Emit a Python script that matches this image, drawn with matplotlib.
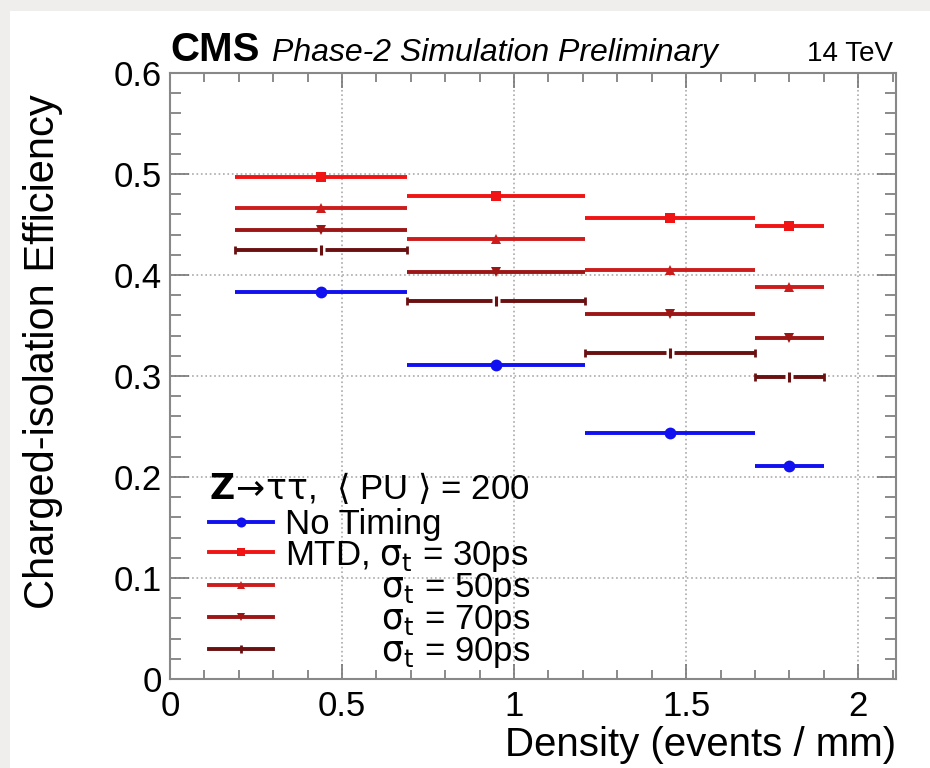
import numpy as np
import matplotlib
matplotlib.use('Agg')
import matplotlib.pyplot as plt
from matplotlib.lines import Line2D
from matplotlib.patches import Rectangle

plt.rcParams['font.family'] = ['Liberation Sans', 'DejaVu Sans']
plt.rcParams['mathtext.fontset'] = 'dejavusans'

# density bins (events / mm)
bin_lo = [0.19, 0.69, 1.205, 1.70]
bin_hi = [0.69, 1.205, 1.70, 1.90]

# charged-isolation efficiency per bin
no_timing = [0.383, 0.311, 0.244, 0.211]
mtd_30ps = [0.497, 0.478, 0.456, 0.449]
mtd_50ps = [0.466, 0.436, 0.405, 0.388]
mtd_70ps = [0.445, 0.403, 0.361, 0.338]
mtd_90ps = [0.425, 0.374, 0.323, 0.299]

labels = ['No Timing', r'MTD, $\mathrm{\sigma_t}$ = 30ps',
          '          ' + r'$\mathrm{\sigma_t}$ = 50ps',
          '          ' + r'$\mathrm{\sigma_t}$ = 70ps',
          '          ' + r'$\mathrm{\sigma_t}$ = 90ps']

lo = np.array(bin_lo)
hi = np.array(bin_hi)
xc = (lo + hi) / 2
xe = (hi - lo) / 2

fig = plt.figure(figsize=(9.3, 7.68), dpi=100, facecolor='#efeeec')
fig.patches.append(Rectangle((10/930, 0), 920/930, 757/768, transform=fig.transFigure,
                             facecolor='white', edgecolor='none', zorder=-1))
ax = fig.add_axes([170/930, 1-679/768, 726/930, 606/768])

series = [
    (no_timing, '#1010f0', 'o', 8.5),
    (mtd_30ps, '#f01414', 's', 7.5),
    (mtd_50ps, '#cc1c1c', '^', 6.5),
    (mtd_70ps, '#9c1616', 'v', 7),
    (mtd_90ps, '#6a1010', '|', 7),
]

handles = []
for vals, col, mk, ms in series:
    if mk == '|':
        ax.errorbar(xc, vals, xerr=xe, fmt='none', ecolor=col, elinewidth=2.8,
                    capsize=3, capthick=2, zorder=3)
        ax.plot(xc, vals, ls='none', marker='s', ms=6, mfc='white', mec='none', zorder=4)
        ax.plot(xc, vals, ls='none', marker='|', ms=ms, mew=2.2, color=col, zorder=5)
    else:
        ax.errorbar(xc, vals, xerr=xe, fmt=mk, color=col, ms=ms, elinewidth=2.8,
                    capsize=3, capthick=2, mew=0, zorder=3)
    handles.append(Line2D([], [], color=col, lw=2.8, marker=mk, ms=ms * 0.85,
                          mew=2 if mk == '|' else 0))

ax.set_xlim(0, 2.11)
ax.set_ylim(0, 0.6)
ax.set_xticks([0, 0.5, 1, 1.5, 2])
ax.set_xticklabels(['0', '0.5', '1', '1.5', '2'])
ax.set_yticks([0, 0.1, 0.2, 0.3, 0.4, 0.5, 0.6])
ax.set_yticklabels(['0', '0.1', '0.2', '0.3', '0.4', '0.5', '0.6'])
ax.set_xticks(np.arange(0, 2.11, 0.1), minor=True)
ax.set_yticks(np.arange(0, 0.601, 0.02), minor=True)

ax.tick_params(which='both', direction='in', top=True, right=True, color='#777777', width=1.2)
ax.tick_params(axis='x', which='major', length=11, labelsize=25, pad=8)
ax.tick_params(axis='x', which='minor', length=6.5)
ax.tick_params(axis='y', which='major', length=14, labelsize=25, pad=6)
ax.tick_params(axis='y', which='minor', length=8)
ax.grid(True, which='major', color='#aaaaaa', linestyle=':', linewidth=1.2)
for s in ax.spines.values():
    s.set_color('#888888')
    s.set_linewidth(1.5)

ax.set_xlabel('Density (events / mm)', fontsize=29, loc='right', labelpad=2)
ax.set_ylabel('Charged-isolation Efficiency', fontsize=30, loc='top')
ax.yaxis.set_label_coords(-0.148, 0.965)

ax.text(0, 1.02, 'CMS', transform=ax.transAxes, fontsize=29, fontweight='bold', va='baseline')
ax.text(0.14, 1.02, 'Phase-2 Simulation Preliminary', transform=ax.transAxes,
        fontsize=23, style='italic', va='baseline')
ax.text(0.996, 1.02, '14 TeV', transform=ax.transAxes, fontsize=20, ha='right', va='baseline')

leg = ax.legend(handles, labels, loc='lower left', bbox_to_anchor=(0.025, -0.02),
                frameon=False, fontsize=25, handlelength=1.85, handletextpad=0.35,
                labelspacing=-0.08, borderpad=0.1,
                title=r'$\mathbf{Z}\!\rightarrow\!\mathrm{\tau\tau}$,  $\langle$ PU $\rangle$ = 200',
                title_fontsize=25, alignment='left')
leg._legend_box.sep = 2

fig.savefig('out.png', dpi=100, facecolor=fig.get_facecolor())
